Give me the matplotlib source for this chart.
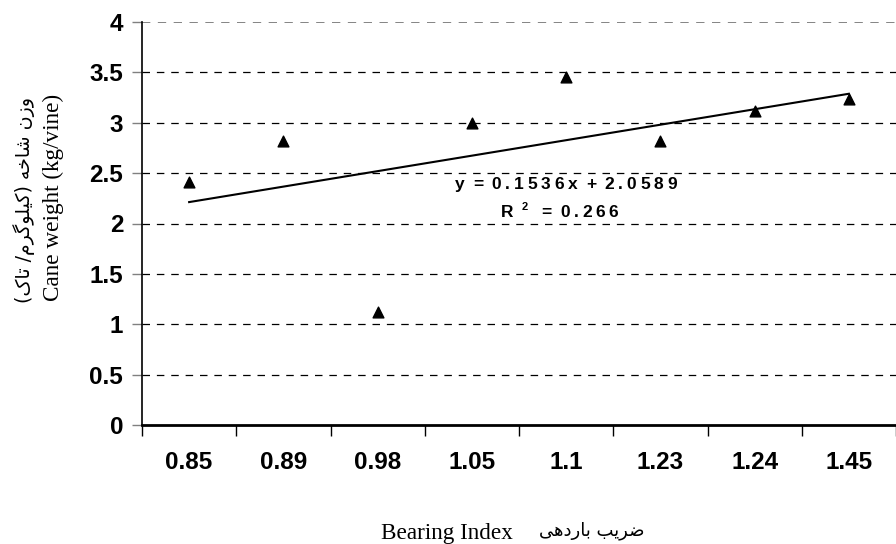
import matplotlib
matplotlib.use("Agg")
import matplotlib.pyplot as plt
import matplotlib.transforms as mtransforms
import numpy as np

# ---------------- data ----------------
categories = ["0.85", "0.89", "0.98", "1.05", "1.1", "1.23", "1.24", "1.45"]
cane_weight = [2.41, 2.82, 1.12, 3.00, 3.45, 2.82, 3.12, 3.24]
slope, intercept = 0.1536, 2.0589
r2 = 0.266
y_ticks = [0, 0.5, 1, 1.5, 2, 2.5, 3, 3.5, 4]
ylabel_fa = "وزن شاخه (کیلوگرم/ تاک)"
ylabel_en = "Cane weight (kg/vine)"
xlabel_fa = "ضریب باردهی"
xlabel_en = "Bearing Index"

# ------------- minimal Arabic/Persian shaper -------------
FORMS = {  # iso, fin, ini, med
    "ا": ("\uFE8D", "\uFE8E", None, None),
    "ب": ("\uFE8F", "\uFE90", "\uFE91", "\uFE92"),
    "ت": ("\uFE95", "\uFE96", "\uFE97", "\uFE98"),
    "خ": ("\uFEA5", "\uFEA6", "\uFEA7", "\uFEA8"),
    "د": ("\uFEA9", "\uFEAA", None, None),
    "ر": ("\uFEAD", "\uFEAE", None, None),
    "ز": ("\uFEAF", "\uFEB0", None, None),
    "ش": ("\uFEB5", "\uFEB6", "\uFEB7", "\uFEB8"),
    "ض": ("\uFEBD", "\uFEBE", "\uFEBF", "\uFEC0"),
    "ل": ("\uFEDD", "\uFEDE", "\uFEDF", "\uFEE0"),
    "م": ("\uFEE1", "\uFEE2", "\uFEE3", "\uFEE4"),
    "ن": ("\uFEE5", "\uFEE6", "\uFEE7", "\uFEE8"),
    "ه": ("\uFEE9", "\uFEEA", "\uFEEB", "\uFEEC"),
    "و": ("\uFEED", "\uFEEE", None, None),
    "ی": ("\uFBFC", "\uFBFD", "\uFBFE", "\uFBFF"),
    "ک": ("\uFB8E", "\uFB8F", "\uFB90", "\uFB91"),
    "گ": ("\uFB92", "\uFB93", "\uFB94", "\uFB95"),
}


def shape(text):
    out = []
    n = len(text)
    for i, ch in enumerate(text):
        if ch not in FORMS:
            out.append(ch)
            continue
        f = FORMS[ch]
        prev = text[i - 1] if i > 0 else None
        nxt = text[i + 1] if i < n - 1 else None
        join_prev = prev in FORMS and FORMS[prev][2] is not None
        join_next = nxt in FORMS and f[2] is not None
        if join_prev and join_next:
            out.append(f[3])
        elif join_prev:
            out.append(f[1])
        elif join_next:
            out.append(f[2])
        else:
            out.append(f[0])
    vis = "".join(out)[::-1]
    mirror = {"(": ")", ")": "("}
    return "".join(mirror.get(c, c) for c in vis)


# ---------------- figure ----------------
plt.rcParams["font.family"] = ["Liberation Sans", "DejaVu Sans"]
fig = plt.figure(figsize=(8.96, 5.44), dpi=100)
W, H = 896, 544
left_px, right_px, top_px, bottom_px = 142, 896, 22, 425
ax = fig.add_axes([left_px / W, (H - bottom_px) / H,
                   (right_px - left_px) / W, (bottom_px - top_px) / H])
renderer = fig.canvas.get_renderer()


def _width(s, sz):
    t = fig.text(0, 0, s, fontsize=sz, fontweight="bold")
    w = t.get_window_extent(renderer).width
    t.remove()
    return w


def tracked_text(xd, yd, s, size, target_px, sizes=None):
    """Draw s centred at data (xd, yd); extra spacing is added after each
    non-space character so the string spans target_px."""
    sizes = sizes or [size] * len(s)
    widths = []
    for ch, sz in zip(s, sizes):
        if ch == " ":
            widths.append(max(_width("x x", sz) - _width("xx", sz), 3.0))
        else:
            widths.append(_width(ch, sz))
    n_gaps = sum(1 for i in range(len(s) - 1) if s[i] != " ")
    gap = (target_px - sum(widths)) / max(n_gaps, 1)
    pos = -target_px / 2.0
    for i, (ch, sz, w) in enumerate(zip(s, sizes, widths)):
        if ch != " ":
            dy = 5 if sz != size else 0
            tr = mtransforms.offset_copy(ax.transData, fig=fig, x=pos * 72 / fig.dpi,
                                         y=dy * 72 / fig.dpi, units="points")
            ax.text(xd, yd, ch, fontsize=sz, fontweight="bold", ha="left",
                    va="center", transform=tr)
        pos += w
        if i < len(s) - 1 and ch != " ":
            pos += gap


x = np.arange(1, len(categories) + 1)
n_vis = (right_px - left_px) / 95.0
ax.set_xlim(0.5, 0.5 + n_vis)
ax.set_ylim(0, 4)

# gridlines
for yv in y_ticks[1:-1]:
    ax.axhline(yv, color="black", lw=0.9, ls=(0, (6, 5.5)), zorder=1)
ax.axhline(4, color="#707070", lw=1.2, ls=(0, (5, 4.5)), zorder=1)

ax.scatter(x, cane_weight, marker="^", s=60, color="black", zorder=3)
xt = np.array([x[0], x[-1]])
ax.plot(xt, slope * xt + intercept, color="black", lw=1.5, zorder=2)

# axes styling
for s in ["top", "right"]:
    ax.spines[s].set_visible(False)
ax.spines["left"].set_linewidth(1.2)
ax.spines["bottom"].set_linewidth(2.0)

ax.set_yticks(y_ticks)
ax.set_yticklabels([f"{v:g}" for v in y_ticks], fontsize=17.5, fontweight="bold")
ax.tick_params(axis="y", length=7.5, width=1, color="#808080", pad=6)

bounds = np.arange(0.5, len(categories) + 0.6, 1.0)
ax.set_xticks(bounds)
ax.set_xticklabels([])
ax.set_xticks(x, minor=True)
ax.set_xticklabels(categories, minor=True, fontsize=17.5, fontweight="bold")
ax.tick_params(axis="x", which="major", length=8, width=1, direction="out")
ax.tick_params(axis="x", which="minor", length=0, pad=19)

# equation text (letter-spaced, as in the original)
eq = f"y = {slope:.4f}x + {intercept:.4f}"
tracked_text(4.995, 2.39, eq, 12.5, 222)
r2_str = f"R 2  = {r2:.3f}"
r2_sizes = [12.5, 12.5, 8] + [12.5] * (len(r2_str) - 3)
tracked_text(4.93, 2.114, r2_str, 12.5, 117, sizes=r2_sizes)

# y labels
fig.text(24 / W, 1 - 200 / H, shape(ylabel_fa), rotation=90, fontsize=13.7,
         family=["DejaVu Sans"], ha="center", va="center")
fig.text(53 / W, 1 - 197 / H, ylabel_en, rotation=90, fontsize=16.7,
         family=["Liberation Serif"], ha="center", va="center")

# x labels
fig.text(381 / W, 1 - 539 / H, xlabel_en, fontsize=16.7,
         family=["Liberation Serif"], ha="left", va="baseline")
fig.text(592 / W, 1 - 531 / H, shape(xlabel_fa), fontsize=13,
         family=["DejaVu Sans"], ha="center", va="center")

fig.savefig("out.png", dpi=100)
